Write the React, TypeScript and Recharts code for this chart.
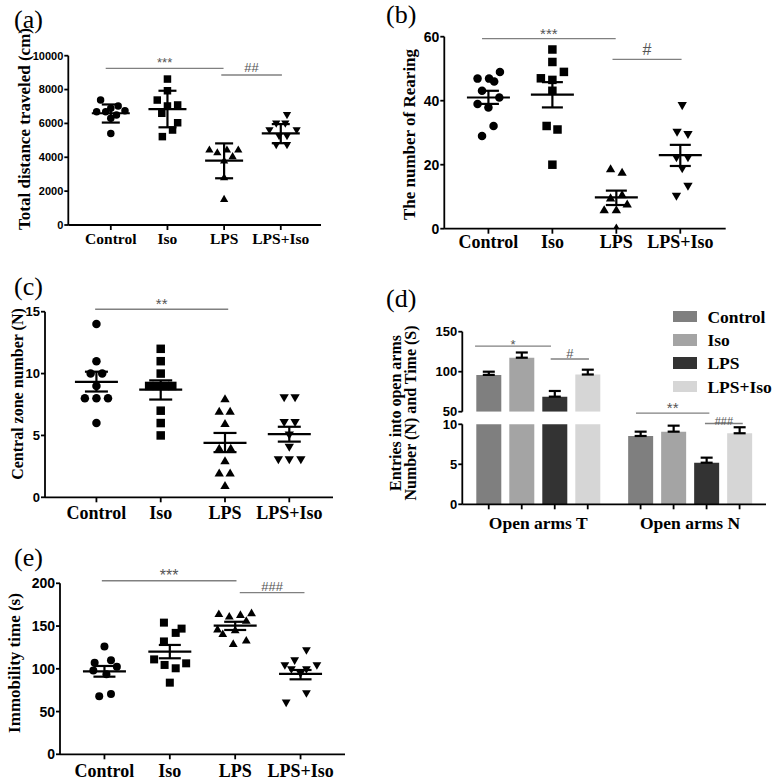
import React from 'react';
import {
  ScatterChart, Scatter, XAxis, YAxis, ErrorBar, ReferenceLine, BarChart, Bar, Legend,
} from 'recharts';

const SERIF = "'Liberation Serif','Times New Roman',serif";
const SANS = "'Liberation Sans',Arial,sans-serif";

const groups = ['Control', 'Iso', 'LPS', 'LPS+Iso'];
const catTicks = [0, 1, 2, 3];

// ---------- (a) Total distance traveled (cm): [x jitter, value]
const aControl = [[-0.18, 7380], [-0.25, 6690], [-0.09, 6690], [0, 6890], [0.13, 7030], [0.25, 6750], [0, 6300], [0.1, 6500], [0, 5410]];
const aIso = [[0, 8620], [0, 7930], [-0.18, 7380], [0, 7030], [0.18, 7090], [-0.1, 6600], [0.18, 6040], [0.09, 5610], [-0.09, 5220]];
const aLPS = [[-0.26, 4490], [-0.12, 4330], [0.05, 4490], [0.25, 4490], [0.15, 4100], [0, 3840], [0, 2850], [0, 1570]];
const aLPSIso = [[0.11, 6460], [-0.08, 5960], [0.08, 5960], [0.28, 5570], [-0.2, 5570], [-0.03, 5220], [0.11, 5220], [-0.08, 4690], [0.11, 4690]];
const aMean = [6600, 6850, 3800, 5410];
const aLow = [6050, 5770, 2760, 4830];
const aHigh = [7120, 7930, 4820, 5960];
const aTicks = [0, 2000, 4000, 6000, 8000, 10000];
const aSig = [
  { from: -0.09, to: 1.99, y: 9250, text: '***' },
  { from: 1.95, to: 3.02, y: 8860, text: '##' },
];

// ---------- (b) The number of Rearing
const bControl = [[0.18, 49], [-0.17, 46.9], [0.01, 46.9], [0.09, 46], [-0.1, 43.1], [0.17, 41], [-0.17, 39], [0, 37.9], [0.08, 32.1], [-0.1, 29]];
const bIso = [[0, 56], [0, 52.1], [0.18, 49], [-0.18, 47], [0, 46.5], [0, 43.1], [-0.09, 32.1], [0.08, 31], [0, 20]];
const bLPS = [[-0.09, 18.9], [0.09, 17.8], [-0.09, 9.8], [0.09, 10.8], [0.17, 7.9], [-0.19, 6.1], [0, 6.1], [0, 0.4]];
const bLPSIso = [[0.03, 38.3], [-0.05, 30], [0.12, 29.3], [-0.06, 22], [0.12, 22], [0.03, 18.6], [0.12, 13.1], [-0.06, 10]];
const bMean = [41, 41.9, 9.8, 23];
const bLow = [39, 37.9, 7.4, 19.6];
const bHigh = [43.1, 45.8, 11.9, 26.2];
const bTicks = [0, 20, 40, 60];
const bSig = [
  { from: -0.1, to: 1.99, y: 59.4, text: '***' },
  { from: 1.94, to: 3.02, y: 52.9, text: '#' },
];

// ---------- (c) Central zone number (N)
const cControl = [[0, 14], [0, 11], [-0.09, 10], [0.09, 10], [0, 9], [-0.18, 8], [0, 8], [0.18, 8], [0, 6]];
const cIso = [[0, 12], [0, 11], [0, 10], [-0.18, 9], [-0.06, 9], [0.07, 9], [0.18, 9], [0, 7], [0, 6], [0, 5]];
const cLPS = [[0, 8], [-0.09, 7], [0.08, 7], [0, 6], [-0.09, 4], [0.09, 4], [0, 3], [-0.09, 2], [0.08, 2], [0, 1]];
const cLPSIso = [[-0.08, 8], [0.09, 8], [-0.08, 6], [0.09, 6], [0, 5], [0, 4], [-0.17, 3], [0, 3], [0.18, 3]];
const cMean = [9.33, 8.7, 4.4, 5.1];
const cLow = [8.55, 7.9, 3.65, 4.5];
const cHigh = [10.15, 9.45, 5.2, 5.7];
const cTicks = [0, 5, 10, 15];
const cSig = [{ from: -0.02, to: 2.05, y: 15.2, text: '**' }];

// ---------- (e) Immobility time (s)
const eControl = [[0, 126], [0.1, 110], [-0.15, 107], [0.19, 102.5], [-0.17, 98], [0.03, 93.5], [0.1, 70.5], [-0.08, 68]];
const eIso = [[-0.09, 154], [0.18, 147], [0.09, 142], [-0.09, 132], [-0.24, 111], [-0.08, 104.5], [0.09, 100.6], [0.25, 106.4], [0, 83.8]];
const eLPS = [[-0.25, 165], [-0.09, 162], [0.08, 164], [0.25, 166], [0.17, 157], [-0.27, 147], [0, 146], [-0.19, 141.5], [-0.03, 130], [0.17, 134]];
const eLPSIso = [[0.09, 120.8], [-0.09, 109], [-0.24, 103.3], [0.25, 103.3], [-0.14, 98.6], [0.09, 98.6], [0, 93.6], [0.09, 70.6], [-0.22, 59.6]];
const eMean = [97, 120.1, 150.4, 94];
const eLow = [90.8, 112.3, 145.4, 87.7];
const eHigh = [103.3, 127.9, 155, 98.6];
const eTicks = [0, 50, 100, 150, 200];
const eSig = [
  { from: -0.04, to: 2.02, y: 203, text: '***' },
  { from: 2.07, to: 3.06, y: 189, text: '###' },
];

// ---------- (d) Open arms bars (group centres at 0.5 and 1.5 on the annotation axis)
const dCats = ['Open arms T', 'Open arms N'];
const dControl = [96, 8.54];
const dIso = [117.5, 9.08];
const dLPS = [68.8, 5.2];
const dLPSIso = [96.5, 8.88];
const dControlErr = [4, 0.54];
const dIsoErr = [6.5, 0.75];
const dLPSErr = [7.1, 0.63];
const dLPSIsoErr = [6, 0.75];
const dUpperTicks = [50, 100, 150];
const dLowerTicks = [0, 5, 10];
const dSigUpper = [
  { from: 0.084, to: 0.584, y: 132, text: '*' },
  { from: 0.582, to: 0.834, y: 115.9, text: '#' },
];
const dSigLower = [
  { from: 1.144, to: 1.627, y: 11.4, text: '**' },
  { from: 1.598, to: 1.847, y: 10.1, text: '###' },
];
const dColors = ['#7f7f7f', '#a4a4a4', '#333333', '#d6d6d6'];

// ---------- helpers
function makeMarker(kind: string, d: number) {
  return (props: any) => {
    const { cx, cy } = props;
    if (cx == null || cy == null) return <g />;
    const r = d / 2;
    if (kind === 'circle') return <circle cx={cx} cy={cy} r={r} fill="#000" />;
    if (kind === 'square') return <rect x={cx - r} y={cy - r} width={d} height={d} fill="#000" />;
    const w = d * 1.1;
    const h = d * 0.95;
    if (kind === 'up')
      return <polygon points={`${cx - w / 2},${cy + h / 2} ${cx + w / 2},${cy + h / 2} ${cx},${cy - h / 2}`} fill="#000" />;
    return <polygon points={`${cx - w / 2},${cy - h / 2} ${cx + w / 2},${cy - h / 2} ${cx},${cy + h / 2}`} fill="#000" />;
  };
}

function makeMeanLine(half: number) {
  return (props: any) => {
    const { cx, cy } = props;
    if (cx == null || cy == null) return <g />;
    return <line x1={cx - half} x2={cx + half} y1={cy} y2={cy} stroke="#000" strokeWidth={2.2} />;
  };
}

function VTitle(props: any) {
  const { lines, tx, ty, fs, gap } = props;
  return (
    <g>
      {lines.map((t: string, i: number) => (
        <text
          key={i}
          transform={`translate(${tx + i * (gap || 0)}, ${ty}) rotate(-90)`}
          textAnchor="middle"
          fontFamily={SERIF}
          fontWeight="bold"
          fontSize={fs}
          fill="#000"
        >
          {t}
        </text>
      ))}
    </g>
  );
}

const kinds = ['circle', 'square', 'up', 'down'];
const YW = 40;
const XH = 25;

function DotPanel({ cfg }: any) {
  const { box, plot } = cfg;
  const margin = {
    top: plot.t - box.y,
    left: plot.l - box.x - YW,
    right: box.x + box.w - plot.r,
    bottom: box.y + box.h - plot.b - XH,
  };
  const series = cfg.points.map((pts: number[][], gi: number) =>
    pts.map(([dx, v]) => ({ x: gi + dx, y: v })),
  );
  const means = cfg.mean.map((m: number, gi: number) => ({
    x: gi,
    y: m,
    err: [m - cfg.low[gi], cfg.high[gi] - m],
  }));
  const axisStyle = { stroke: '#000', strokeWidth: 1.8 };
  return (
    <div style={{ position: 'absolute', left: box.x, top: box.y }}>
      <ScatterChart width={box.w} height={box.h} margin={margin}>
        <XAxis
          type="number"
          dataKey="x"
          domain={cfg.xDomain}
          ticks={catTicks}
          allowDataOverflow
          height={XH}
          tickFormatter={(v: number) => groups[v]}
          axisLine={axisStyle}
          tickLine={axisStyle}
          tickSize={5}
          tickMargin={cfg.xTickMargin}
          interval={0}
          tick={{ fontFamily: SERIF, fontWeight: 'bold', fontSize: cfg.catFs, fill: '#000' }}
        />
        <YAxis
          type="number"
          dataKey="y"
          domain={cfg.yDomain}
          ticks={cfg.yTicks}
          allowDataOverflow
          width={YW}
          axisLine={axisStyle}
          tickLine={axisStyle}
          tickSize={4}
          tickMargin={1}
          interval={0}
          tick={{ fontFamily: SANS, fontWeight: 'bold', fontSize: cfg.yFs, fill: '#000' }}
          label={<VTitle lines={[cfg.title]} tx={cfg.titleX} ty={cfg.titleY} fs={cfg.titleFs} />}
        />
        {series.map((d: any, gi: number) => (
          <Scatter
            key={gi}
            data={d}
            shape={makeMarker(kinds[gi], cfg.dot)}
            isAnimationActive={false}
          />
        ))}
        <Scatter data={means} shape={makeMeanLine(cfg.meanHalf)} isAnimationActive={false}>
          <ErrorBar dataKey="err" direction="y" width={cfg.capHalf} stroke="#000" strokeWidth={2.2} />
        </Scatter>
        {cfg.sig.map((s: any, i: number) => (
          <ReferenceLine
            key={'s' + i}
            segment={[{ x: s.from, y: s.y }, { x: s.to, y: s.y }]}
            stroke="#808080"
            strokeWidth={1.3}
            ifOverflow="visible"
            label={{
              value: s.text,
              position: 'top',
              offset: cfg.sigStyle[i].off,
              fill: '#555',
              fontSize: cfg.sigStyle[i].fs,
              fontFamily: SANS,
            }}
          />
        ))}
      </ScatterChart>
    </div>
  );
}

const panelA = {
  box: { x: 0, y: 0, w: 390, h: 260 },
  plot: { l: 68.3, r: 321, t: 55.7, b: 225 },
  xDomain: [-0.75, 3.71],
  yDomain: [0, 10000],
  yTicks: aTicks,
  points: [aControl, aIso, aLPS, aLPSIso],
  mean: aMean, low: aLow, high: aHigh,
  sig: aSig,
  sigStyle: [{ fs: 13, off: 1 }, { fs: 13, off: 3 }],
  dot: 7.5, meanHalf: 19, capHalf: 9,
  catFs: 15.5, yFs: 11, xTickMargin: 3,
  title: 'Total distance traveled (cm)', titleX: 30, titleY: 129, titleFs: 17,
};
const panelB = {
  box: { x: 385, y: 0, w: 391, h: 260 },
  plot: { l: 444.3, r: 725.7, t: 36.7, b: 228.7 },
  xDomain: [-0.69, 3.71],
  yDomain: [0, 60],
  yTicks: bTicks,
  points: [bControl, bIso, bLPS, bLPSIso],
  mean: bMean, low: bLow, high: bHigh,
  sig: bSig,
  sigStyle: [{ fs: 15, off: 0 }, { fs: 16, off: 4 }],
  dot: 8.5, meanHalf: 21.5, capHalf: 10.5,
  catFs: 18, yFs: 14, xTickMargin: 2,
  title: 'The number of Rearing', titleX: 30, titleY: 134.5, titleFs: 17,
};
const panelC = {
  box: { x: 0, y: 260, w: 390, h: 270 },
  plot: { l: 45, r: 333, t: 311.7, b: 497.3 },
  xDomain: [-0.8, 3.68],
  yDomain: [0, 15],
  yTicks: cTicks,
  points: [cControl, cIso, cLPS, cLPSIso],
  mean: cMean, low: cLow, high: cHigh,
  sig: cSig,
  sigStyle: [{ fs: 15, off: 0 }],
  dot: 8.5, meanHalf: 21.5, capHalf: 11.5,
  catFs: 18, yFs: 13, xTickMargin: 4,
  title: 'Central zone number (N)', titleX: 23, titleY: 134, titleFs: 16,
};
const panelE = {
  box: { x: 0, y: 530, w: 390, h: 251 },
  plot: { l: 60, r: 345, t: 583.3, b: 754.3 },
  xDomain: [-0.68, 3.68],
  yDomain: [0, 200],
  yTicks: eTicks,
  points: [eControl, eIso, eLPS, eLPSIso],
  mean: eMean, low: eLow, high: eHigh,
  sig: eSig,
  sigStyle: [{ fs: 16, off: 0 }, { fs: 13, off: 2 }],
  dot: 8, meanHalf: 21.5, capHalf: 11,
  catFs: 18, yFs: 14, xTickMargin: 5,
  title: 'Immobility time (s)', titleX: 20, titleY: 133, titleFs: 17,
};

// ---------- (d) panel
const dBox = { x: 385, y: 260, w: 391, h: 285 };
const dPlot = { l: 462.3, r: 766, tU: 331.7, bU: 411.7, tL: 424.3, bL: 504.3 };
const BAR = 25;
const GAP = 8;
const dSeries = [
  { key: 'Control', vals: dControl, errs: dControlErr },
  { key: 'Iso', vals: dIso, errs: dIsoErr },
  { key: 'LPS', vals: dLPS, errs: dLPSErr },
  { key: 'LPS+Iso', vals: dLPSIso, errs: dLPSIsoErr },
];
// rows; `pos` places each group on the annotation axis, `minShown` hides values below a broken-axis segment
const buildRows = (minShown: number) =>
  dCats.map((c, i) => {
    const row: any = { cat: c, pos: i + 0.5 };
    dSeries.forEach((s, k) => {
      const v = s.vals[i];
      row['v' + k] = v >= minShown ? v : null;
      row['e' + k] = [0, s.errs[i]];
    });
    return row;
  });
const dRowsLower = buildRows(dLowerTicks[0]);
const dRowsUpper = buildRows(dUpperTicks[0]);

function GroupTick(props: any) {
  const { x, y, payload } = props;
  const axisY = y - 7;
  const offs = [-1.5, -0.5, 0.5, 1.5].map((k) => k * (BAR + GAP));
  return (
    <g>
      {offs.map((o, i) => (
        <line key={i} x1={x + o} x2={x + o} y1={axisY} y2={axisY + 5} stroke="#000" strokeWidth={1.8} />
      ))}
      <text x={x} y={axisY + 24.5} textAnchor="middle" fontFamily={SERIF} fontWeight="bold" fontSize={17.5} fill="#000">
        {payload.value}
      </text>
    </g>
  );
}

function DLegend(props: any) {
  const payload = props.payload || [];
  return (
    <div>
      {payload.map((p: any, i: number) => (
        <div key={i} style={{ display: 'flex', alignItems: 'center', height: 23.3 }}>
          <span style={{ display: 'inline-block', width: 24.7, height: 11.7, background: p.color, marginRight: 10 }} />
          <span style={{ fontFamily: SERIF, fontWeight: 'bold', fontSize: 17.5, color: '#000', lineHeight: '20px' }}>
            {p.value}
          </span>
        </div>
      ))}
    </div>
  );
}

function BarPanel() {
  const axisStyle = { stroke: '#000', strokeWidth: 1.8 };
  const left = dPlot.l - dBox.x - YW;
  const common = {
    left,
    right: dBox.x + dBox.w - dPlot.r,
  };
  const bars = () =>
    dSeries.map((s, k) => (
      <Bar key={k} dataKey={'v' + k} name={s.key} fill={dColors[k]} barSize={BAR} isAnimationActive={false}>
        <ErrorBar dataKey={'e' + k} direction="y" width={6} stroke="#000" strokeWidth={2.2} />
      </Bar>
    ));
  const sigLines = (list: any[], styles: any[]) =>
    list.map((s, i) => (
      <ReferenceLine
        key={'s' + i}
        xAxisId="n"
        segment={[{ x: s.from, y: s.y }, { x: s.to, y: s.y }]}
        stroke="#808080"
        strokeWidth={1.3}
        ifOverflow="visible"
        label={{ value: s.text, position: 'top', offset: styles[i].off, fill: '#555', fontSize: styles[i].fs, fontFamily: SANS }}
      />
    ));
  return (
    <>
      <div style={{ position: 'absolute', left: dBox.x, top: dBox.y }}>
        <BarChart
          width={dBox.w}
          height={dBox.h}
          data={dRowsLower}
          barGap={GAP}
          margin={{ top: dPlot.tL - dBox.y, bottom: dBox.y + dBox.h - dPlot.bL - XH, ...common }}
        >
          <XAxis
            dataKey="cat"
            height={XH}
            axisLine={axisStyle}
            tickLine={false}
            tickSize={5}
            tickMargin={2}
            interval={0}
            tick={<GroupTick />}
          />
          <XAxis xAxisId="n" dataKey="pos" type="number" domain={[0, 2]} hide allowDataOverflow />
          <YAxis
            domain={[0, 10]}
            ticks={dLowerTicks}
            allowDataOverflow
            width={YW}
            axisLine={axisStyle}
            tickLine={axisStyle}
            tickSize={4}
            tickMargin={1}
            interval={0}
            tick={{ fontFamily: SANS, fontWeight: 'bold', fontSize: 13, fill: '#000' }}
            label={<VTitle lines={['Entries into open arms', 'Number (N) and Time (S)']} tx={16} ty={153} fs={16} gap={15} />}
          />
          {bars()}
          {sigLines(dSigLower, [{ fs: 15, off: 0 }, { fs: 11, off: -1 }])}
        </BarChart>
      </div>
      <div style={{ position: 'absolute', left: dBox.x, top: dBox.y }}>
        <BarChart
          width={dBox.w}
          height={170}
          data={dRowsUpper}
          barGap={GAP}
          margin={{ top: dPlot.tU - dBox.y, bottom: 170 - (dPlot.bU - dBox.y), ...common }}
        >
          <XAxis dataKey="cat" hide />
          <XAxis xAxisId="n" dataKey="pos" type="number" domain={[0, 2]} hide allowDataOverflow />
          <YAxis
            domain={[50, 150]}
            ticks={dUpperTicks}
            allowDataOverflow
            width={YW}
            axisLine={axisStyle}
            tickLine={axisStyle}
            tickSize={4}
            tickMargin={1}
            interval={0}
            tick={{ fontFamily: SANS, fontWeight: 'bold', fontSize: 13, fill: '#000' }}
          />
          {bars()}
          {sigLines(dSigUpper, [{ fs: 13, off: -3 }, { fs: 13, off: 1 }])}
          <Legend
            layout="vertical"
            align="center"
            verticalAlign="middle"
            content={<DLegend />}
            wrapperStyle={{ position: 'absolute', left: 672.7 - dBox.x, top: 305 - dBox.y, width: 110, height: 95 }}
          />
        </BarChart>
      </div>
    </>
  );
}

const letterStyle: any = {
  position: 'absolute',
  fontFamily: SERIF,
  fontSize: 26,
  lineHeight: '26px',
  color: '#000',
};

export default function App() {
  return (
    <div style={{ position: 'absolute', left: 0, top: 0, width: 776, height: 781, background: '#fff', overflow: 'hidden' }}>
      <DotPanel cfg={panelA} />
      <DotPanel cfg={panelB} />
      <DotPanel cfg={panelC} />
      <DotPanel cfg={panelE} />
      <BarPanel />
      <div style={{ ...letterStyle, left: 14, top: 7 }}>(a)</div>
      <div style={{ ...letterStyle, left: 386, top: 2 }}>(b)</div>
      <div style={{ ...letterStyle, left: 14, top: 274 }}>(c)</div>
      <div style={{ ...letterStyle, left: 386, top: 286 }}>(d)</div>
      <div style={{ ...letterStyle, left: 14, top: 545 }}>(e)</div>
    </div>
  );
}
